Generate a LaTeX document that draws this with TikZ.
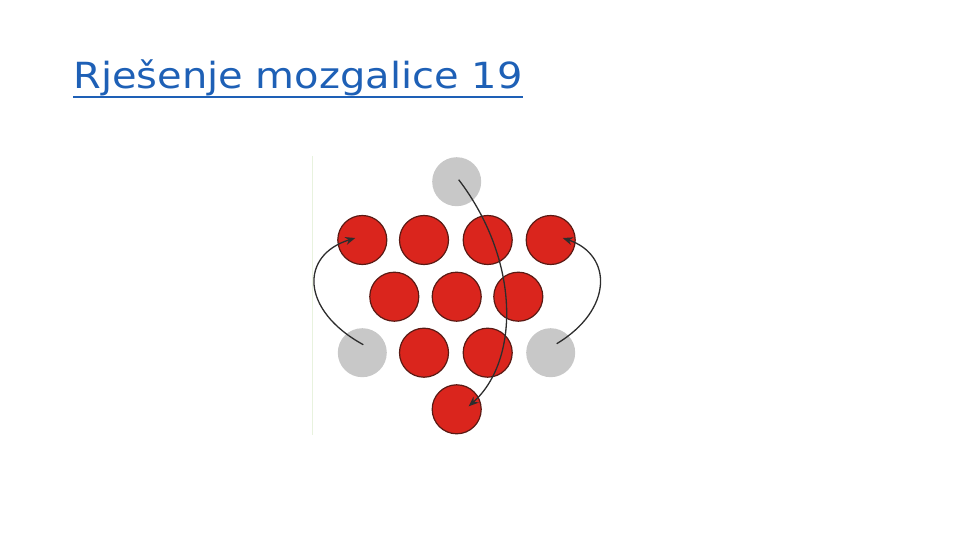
\documentclass[tikz,border=0pt]{standalone}
\usepackage{fontspec}
\setmainfont{DejaVu Sans}
\newfontfamily\titlefont[FakeStretch=1.11]{DejaVu Sans}
\usetikzlibrary{arrows.meta}
\definecolor{titleblue}{RGB}{30,96,182}
\definecolor{ballred}{RGB}{218,37,29}
\definecolor{balledge}{RGB}{90,26,20}
\definecolor{ballgray}{RGB}{200,200,200}
\definecolor{edgegreen}{RGB}{232,242,222}
\definecolor{arrowgray}{RGB}{45,45,45}
\begin{document}
\begin{tikzpicture}[x=0.5pt,y=-0.5pt,
        redball/.style={draw=balledge, line width=0.6pt, shape=circle, fill=ballred, minimum size=24.5pt, inner sep=0pt},
        grayball/.style={shape=circle, fill=ballgray, minimum size=24.5pt, inner sep=0pt},
        move/.style={draw=arrowgray, line width=0.65pt, -{Stealth[length=5pt,width=4pt]}}]
            \useasboundingbox (0,0) rectangle (960,540);

            \node[anchor=base west, text=titleblue, font=\titlefont\fontsize{18}{20}\selectfont, inner sep=0pt] (title) at (73,89) {Rješenje mozgalice 19};
            \draw[titleblue, line width=1pt] ([shift={(0,8)}]title.base west) -- ([shift={(0,8)}]title.base east);

            \draw[edgegreen, line width=0.5pt] (312.7,156) -- (312.7,435);

            % empty places
            \node[grayball] (gt) at (456.7,181.7) {};
            \node[grayball] (gl) at (362.3,352.7) {};
            \node[grayball] (gr) at (550.7,352.7) {};

            % coins
            \node[redball] (r1) at (362.3,240) {};
            \node[redball] (r2) at (424,240) {};
            \node[redball] (r3) at (487.7,240) {};
            \node[redball] (r4) at (550.7,240) {};
            \node[redball] (r5) at (394.3,296.7) {};
            \node[redball] (r6) at (456.7,296.7) {};
            \node[redball] (r7) at (518.3,296.7) {};
            \node[redball] (r8) at (424,352.7) {};
            \node[redball] (r9) at (487.7,352.7) {};
            \node[redball] (rb) at (456.7,409.3) {};

            % moves
            \draw[move] ([shift={(1,-8)}]gl.center) .. controls (300,310) and (300,255) .. ([shift={(-7,-2)}]r1.center);
            \draw[move] ([shift={(6,-9)}]gr.center) .. controls (613,310) and (613,255) .. ([shift={(12,-2)}]r4.center);
            \draw[move] ([shift={(2,-2)}]gt.center) .. controls (520,260) and (520,360) .. ([shift={(12,-3)}]rb.center);
        \end{tikzpicture}
\end{document}
